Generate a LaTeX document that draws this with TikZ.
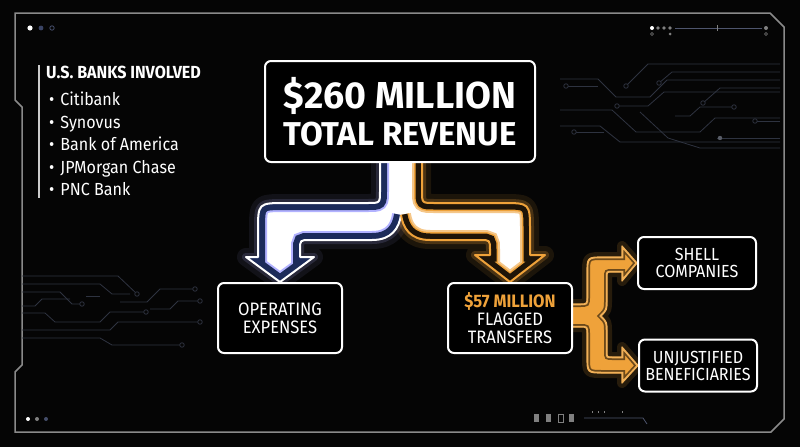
\documentclass[tikz,border=0pt]{standalone}
\usepackage{fontspec}
\setmainfont{Fira Sans}[FakeStretch=0.92]
\newfontfamily\headfont{Fira Sans}
\usetikzlibrary{positioning,calc}

\definecolor{panel}{HTML}{050505}
\definecolor{rim}{HTML}{8A8A8A}
\definecolor{navy}{HTML}{1C2B5A}
\definecolor{amber}{HTML}{EFA23A}
\definecolor{umber}{HTML}{1E1408}
\definecolor{tracegray}{HTML}{2E3340}

\pgfdeclarelayer{back}
\pgfdeclarelayer{flow}
\pgfsetlayers{back,flow,main}

\begin{document}
\begin{tikzpicture}[
x=1pt, y=-1pt,
card/.style = {draw=white, line width=2pt, rounded corners=6pt, fill=black, text=white, align=center, inner sep=0pt},
big-card/.style = {card, minimum width=270pt, minimum height=101pt, font=\headfont\bfseries\fontsize{37.5}{37.5}\selectfont},
flow-card/.style = {card, minimum width=124pt, minimum height=70pt, font=\fontsize{18}{18}\selectfont},
leaf-card/.style = {card, minimum width=118pt, minimum height=52pt, font=\fontsize{17.5}{17}\selectfont},
bank/.style = {anchor=base west, text=white, inner sep=0pt, font=\fontsize{17.5}{17}\selectfont},
trace/.style = {draw=tracegray, line width=0.8pt},
pad/.style = {draw=tracegray, line width=0.8pt, fill=panel}
]

\useasboundingbox (0,0) rectangle (800,447);

% cards
\node [big-card] (revenue) at (400,111.5) {\$260 MILLION\\{\fontsize{33}{33}\selectfont TOTAL REVENUE}};
\node [flow-card] (opex) at (280,318) {OPERATING\\EXPENSES};
\node [flow-card] (flagged) at (510,318) {{\color{amber}\bfseries\$57 MILLION}\\FLAGGED\\TRANSFERS};
\node [leaf-card] (shell) at (697,263) {SHELL\\COMPANIES};
\node [leaf-card] (benef) at (698,365.5) {UNJUSTIFIED\\BENEFICIARIES};

% banks
\draw [white!80!black, line width=1.5pt] (39,65) -- (39,198);
\node [bank, font=\bfseries\fontsize{17.5}{17}\selectfont] (banks) at (46,78) {U.S. BANKS INVOLVED};
\node [bank] (citi) at (49,105) {\textbullet\hspace{6pt}Citibank};
\node [bank] (synovus) at (49,128) {\textbullet\hspace{6pt}Synovus};
\node [bank] (bofa) at (49,150.5) {\textbullet\hspace{6pt}Bank of America};
\node [bank] (jpm) at (49,173) {\textbullet\hspace{6pt}JPMorgan Chase};
\node [bank] (pnc) at (49,195) {\textbullet\hspace{6pt}PNC Bank};

% arrows
\def\opexedge{(380,162) -- (380,191) .. controls (380,203) .. (368,203) -- (286,203) .. controls (258,203) .. (258,231) -- (258,257) -- (246,257) -- (opex.north) -- (314,257) -- (300,257) -- (300,250) .. controls (300,240) .. (310,240) -- (372,240) .. controls (392,240) and (399,228) .. (401,215)}
\def\flagedge{(422,162) -- (422,191) .. controls (422,203) .. (434,203) -- (502,203) .. controls (530,203) .. (530,231) -- (530,255) -- (545,255) -- (flagged.north) -- (475,255) -- (490,255) -- (490,250) .. controls (490,240) .. (480,240) -- (430,240) .. controls (410,240) and (403,228) .. (401,215)}
\def\splitedge{(570,304) -- (580,304) .. controls (587,304) .. (587,297) -- (587,274) .. controls (587,257) .. (604,257) -- (622,257) -- (622,246) -- (shell.west) -- (622,281) -- (622,272) -- (612,272) .. controls (607,272) .. (607,277) -- (607,300) .. controls (607,310) .. (601,316) .. controls (607,322) .. (607,332) -- (607,352) .. controls (607,357) .. (612,357) -- (622,357) -- (622,347) -- (benef.west) -- (622,383) -- (622,373) -- (604,373) .. controls (587,373) .. (587,356) -- (587,334) .. controls (587,327) .. (580,327) -- (570,327)}

\begin{pgfonlayer}{flow}
\draw [blue!30!white, line width=18pt, opacity=.08, line join=round] \opexedge;
\draw [blue!30!white, line width=8pt, opacity=.15, line join=round] \opexedge;
\draw [amber, line width=18pt, opacity=.10, line join=round] \flagedge;
\draw [amber, line width=8pt, opacity=.22, line join=round] \flagedge;
\begin{scope}
  \clip \opexedge -- (401,162) -- cycle;
  \fill [white] \opexedge -- (401,162) -- cycle;
  \draw [blue!30!white, line width=18pt] \opexedge;
  \draw [navy, line width=14pt] \opexedge;
\end{scope}
\begin{scope}
  \clip \flagedge -- (401,162) -- cycle;
  \fill [white] \flagedge -- (401,162) -- cycle;
  \draw [amber!60!white, line width=20pt] \flagedge;
  \draw [amber, line width=16pt] \flagedge;
  \draw [umber, line width=13pt] \flagedge;
\end{scope}
\draw [white, line width=2pt, line join=round] \opexedge;
\draw [amber, line width=2pt, line join=round] \flagedge;

\draw [amber, line width=10pt, opacity=.15, line join=round] \splitedge;
\fill [amber] \splitedge -- cycle;
\begin{scope}
  \clip \splitedge -- cycle;
  \draw [amber!45!black, line width=6pt] \splitedge;
  \draw [amber!85!white, line width=2.5pt] \splitedge;
\end{scope}
\draw [amber!85!white, line width=1.2pt, line join=round] \splitedge;
\end{pgfonlayer}

% backdrop
\begin{pgfonlayer}{back}
\fill [panel] (0,0) rectangle (800,447);
\draw [rim, line width=1.5pt] (15,13) -- (770,13) -- (784,27) -- (784,419) -- (771,432) -- (15,432) -- (15,372) -- (22,365) -- (22,107) -- (15,100) -- cycle;

\fill [white] (30,28) circle (2.6);
\fill [navy!70!gray] (41,28) circle (2.4);
\draw [navy!60!gray, line width=0.8pt] (52,28) circle (2.2);
\fill [white] (28,419) circle (2);
\fill [gray] (37,419) circle (2);
\fill [navy!60!gray] (46,419) circle (2);

\fill [white] (652,28) circle (2);
\fill [gray] (658,28) circle (1.8);
\fill [gray] (664,28) circle (1.8);
\fill [gray] (670,28) circle (1.8);
\draw [navy!50!gray, line width=0.8pt] (675,28) -- (762,28);
\draw [gray, line width=0.8pt] (717,25) -- (717,31);
\fill [gray] (766,28) circle (2);
\draw [gray, line width=0.6pt] (652,34) circle (1.5);
\fill [gray] (670,34) circle (1.5);
\draw [gray, line width=0.6pt] (766,34) circle (1.5);

\fill [gray] (534,414) rectangle (539,422);
\fill [gray] (546,414) rectangle (551,422);
\draw [gray, line width=0.6pt] (558,414) rectangle (563,422);
\fill [gray] (569,414) rectangle (574,422);
\draw [navy!50!gray, line width=0.8pt] (584,418) -- (643,418) -- (647,424);
\draw [gray, line width=0.5pt] (592,411) -- (592,413) (598,411) -- (598,413) (604,411) -- (604,413) (622,411) -- (622,413);

% circuit traces, top right
\draw [trace] (626,86) -- (648,64) -- (780,64);
\draw [trace] (560,79) -- (598,79) -- (616,97) -- (650,97) -- (667,80) -- (780,80);
\draw [trace] (566,86) -- (598,86);
\draw [trace] (659,83) -- (672,72) -- (780,72);
\draw [trace] (617,106) -- (648,106) -- (664,92) -- (780,92);
\draw [trace] (560,110) -- (612,110) -- (636,132) -- (700,132) -- (715,118) -- (780,118);
\draw [trace] (703,103) -- (720,88) -- (780,88);
\draw [trace] (734,107) -- (700,107) -- (690,116) -- (675,116);
\draw [trace] (560,126) -- (600,126) -- (620,142) -- (780,142);
\draw [trace] (574,132) -- (604,132);
\draw [trace] (755,121) -- (780,121);
\draw [trace] (717,138) -- (780,138);
\draw [trace] (640,112) -- (668,138) -- (700,148) -- (780,148);
\node [pad, circle, inner sep=1.6pt] at (626,86) {};
\node [pad, circle, inner sep=1.6pt] at (566,86) {};
\node [pad, circle, inner sep=1.6pt] at (659,83) {};
\node [pad, circle, inner sep=1.6pt] at (617,106) {};
\node [pad, circle, inner sep=1.6pt] at (703,103) {};
\node [pad, circle, inner sep=1.6pt] at (734,107) {};
\node [pad, circle, inner sep=1.6pt] at (574,132) {};
\node [pad, circle, inner sep=1.6pt] at (755,121) {};
\fill [tracegray!80!white] (720,138) circle (2.2);

% circuit traces, left
\draw [trace] (22,276) -- (118,276) -- (137,294);
\draw [trace] (22,284) -- (100,284) -- (112,294) -- (130,294);
\draw [trace] (195,289) -- (160,289) -- (147,302) -- (120,302);
\draw [trace] (22,292) -- (60,292) -- (72,304) -- (82,304);
\draw [trace] (22,306) -- (35,306) -- (42,299) -- (70,299);
\draw [trace] (22,313) -- (45,313) -- (55,322) -- (100,322) -- (110,312) -- (146,312);
\draw [trace] (22,330) -- (110,330) -- (118,322) -- (200,322);
\draw [trace] (22,338) -- (100,338) -- (112,345) -- (182,345);
\draw [trace] (86,296) -- (100,296);
\draw [trace] (150,309) -- (170,309) -- (178,301) -- (200,301);
\node [pad, circle, inner sep=1.6pt] at (137,294) {};
\node [pad, circle, inner sep=1.6pt] at (195,289) {};
\node [pad, circle, inner sep=1.6pt] at (82,304) {};
\node [pad, circle, inner sep=1.6pt] at (146,312) {};
\node [pad, circle, inner sep=1.6pt] at (200,322) {};
\node [pad, circle, inner sep=1.6pt] at (182,345) {};
\node [pad, circle, inner sep=1.6pt] at (200,301) {};
\end{pgfonlayer}

\end{tikzpicture}
\end{document}
